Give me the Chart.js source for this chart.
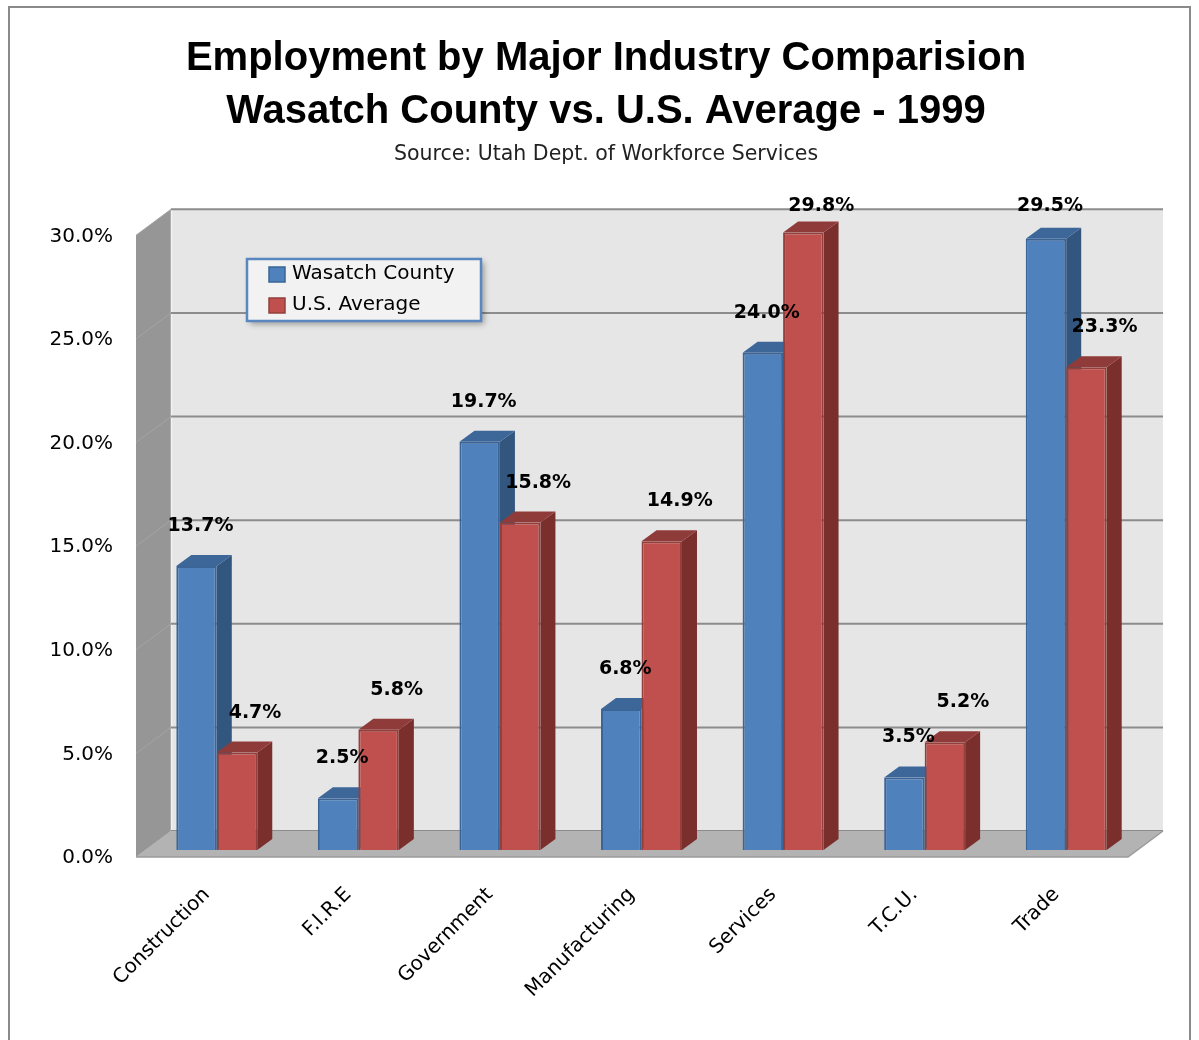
<!DOCTYPE html>
<html>
<head>
<meta charset="utf-8">
<title>Employment by Major Industry</title>
<script src="https://cdn.jsdelivr.net/npm/chart.js@4.4.1/dist/chart.umd.min.js"></script>
<style>
  html, body { margin: 0; padding: 0; background: #fff; }
  #chart { display: block; }
</style>
</head>
<body>
<canvas id="chart" width="1199" height="1040"></canvas>
<script>
// -----------------------------
// Data
// -----------------------------
const industries = ["Construction", "F.I.R.E", "Government", "Manufacturing", "Services", "T.C.U.", "Trade"]
const wasatchCounty = [13.7, 2.5, 19.7, 6.8, 24.0, 3.5, 29.5]
const usAverage = [4.7, 5.8, 15.8, 14.9, 29.8, 5.2, 23.3]
const seriesNames = ["Wasatch County", "U.S. Average"]
const yTicks = [0, 5, 10, 15, 20, 25, 30]

// colours: front, top, side, outline
const BLUE = { front: "#4f81bd", top: "#3d6699", side: "#33567f", edge: "#3a6596" }
const RED = { front: "#c0504d", top: "#8f3b39", side: "#7a2f2d", edge: "#93403d" }

// depth of each bar and of the whole floor/wall box
const BAR_DX = 15, BAR_DY = 11
const BOX_DX = 35, BOX_DY = 26
const BACK_DY = 19

const FONT = "'DejaVu Sans', Verdana, sans-serif"

// -----------------------------
// Walls, floor, 3D bars, labels
// -----------------------------
function drawFaces(ctx, bar, pal) {
  const p = bar.getProps(["x", "y", "base", "width"], true)
  const l = p.x - p.width / 2, r = p.x + p.width / 2
  ctx.fillStyle = pal.side
  ctx.beginPath()
  ctx.moveTo(r, p.y)
  ctx.lineTo(r + BAR_DX, p.y - BAR_DY)
  ctx.lineTo(r + BAR_DX, p.base - BAR_DY)
  ctx.lineTo(r, p.base)
  ctx.closePath()
  ctx.fill()
  ctx.fillStyle = pal.top
  ctx.beginPath()
  ctx.moveTo(l, p.y)
  ctx.lineTo(l + BAR_DX, p.y - BAR_DY)
  ctx.lineTo(r + BAR_DX, p.y - BAR_DY)
  ctx.lineTo(r, p.y)
  ctx.closePath()
  ctx.fill()
}

const box3d = {
  id: "box3d",
  beforeDraw(chart) {
    const ctx = chart.ctx
    ctx.save()
    ctx.strokeStyle = "#8a8a8a"
    ctx.lineWidth = 2
    ctx.strokeRect(9, 7, 1181, 1100)
    ctx.restore()
  },
  beforeDatasetsDraw(chart) {
    const ctx = chart.ctx
    const ca = chart.chartArea
    const y = chart.scales.y
    const y0 = y.getPixelForValue(0)
    const fl = ca.left - 10, fr = ca.right - 9, fy = y0 + 7
    const bl = fl + BOX_DX, br = fr + BOX_DX, by = fy - BOX_DY
    const wallTop = y.getPixelForValue(30) - BACK_DY

    ctx.save()
    // back wall
    ctx.fillStyle = "#e6e6e6"
    ctx.fillRect(bl, wallTop, br - bl, by - wallTop)

    // left wall
    ctx.fillStyle = "#969696"
    ctx.beginPath()
    ctx.moveTo(bl, by)
    ctx.lineTo(bl, wallTop)
    ctx.lineTo(fl, wallTop + BOX_DY)
    ctx.lineTo(fl, fy)
    ctx.closePath()
    ctx.fill()
    ctx.strokeStyle = "#f2f2f2"
    ctx.lineWidth = 1.5
    ctx.beginPath()
    ctx.moveTo(bl + 0.5, by)
    ctx.lineTo(bl + 0.5, wallTop)
    ctx.stroke()

    // grid lines on both walls
    yTicks.forEach(v => {
      const gy = y.getPixelForValue(v) - BACK_DY
      ctx.strokeStyle = "#8c8c8c"
      ctx.lineWidth = 2
      ctx.beginPath()
      ctx.moveTo(bl, gy)
      ctx.lineTo(br, gy)
      ctx.stroke()
      ctx.strokeStyle = "#a4a4a4"
      ctx.lineWidth = 1
      ctx.beginPath()
      ctx.moveTo(bl, gy)
      ctx.lineTo(fl, gy + BOX_DY)
      ctx.stroke()
    })

    // floor
    ctx.fillStyle = "#b3b3b3"
    ctx.beginPath()
    ctx.moveTo(fl, fy)
    ctx.lineTo(bl, by)
    ctx.lineTo(br, by)
    ctx.lineTo(fr, fy)
    ctx.closePath()
    ctx.fill()
    ctx.strokeStyle = "#9a9a9a"
    ctx.lineWidth = 1.5
    ctx.beginPath()
    ctx.moveTo(fl, fy)
    ctx.lineTo(fr, fy)
    ctx.lineTo(br, by)
    ctx.stroke()
    ctx.restore()
  },
  // bars are painted below, series by series, so the default pass is skipped
  beforeDatasetDraw() {
    return false
  },
  afterDatasetsDraw(chart) {
    const ctx = chart.ctx
    const pals = [BLUE, RED]

    // front face from the bar element, then its side and top
    chart.data.datasets.forEach((ds, i) => {
      chart.getDatasetMeta(i).data.forEach(bar => {
        bar.draw(ctx)
        ctx.save()
        drawFaces(ctx, bar, pals[i])
        ctx.restore()
      })
    })

    // value labels above the bars
    ctx.save()
    ctx.font = "bold 19px " + FONT
    ctx.fillStyle = "#000"
    ctx.textAlign = "center"
    ctx.textBaseline = "middle"
    chart.data.datasets.forEach((ds, i) => {
      const shift = i === 0 ? 4 : 18
      chart.getDatasetMeta(i).data.forEach((bar, j) => {
        const ly = Math.max(bar.y - 40, 206)
        ctx.fillText(ds.data[j].toFixed(1) + "%", bar.x + shift, ly)
      })
    })
    ctx.restore()
  },
  // legend box inside the plot
  afterDraw(chart) {
    const ctx = chart.ctx
    const lx = 247, ly = 259, lw = 234, lh = 62
    ctx.save()
    ctx.shadowColor = "rgba(0,0,0,0.35)"
    ctx.shadowBlur = 6
    ctx.shadowOffsetX = 3
    ctx.shadowOffsetY = 3
    ctx.fillStyle = "#f2f2f2"
    ctx.fillRect(lx, ly, lw, lh)
    ctx.restore()

    ctx.save()
    ctx.strokeStyle = "#5b87c0"
    ctx.lineWidth = 2.5
    ctx.strokeRect(lx, ly, lw, lh)
    ctx.font = "20px " + FONT
    ctx.textBaseline = "middle"
    ;[BLUE, RED].forEach((pal, i) => {
      const cy = ly + 15 + i * 31
      ctx.fillStyle = pal.front
      ctx.fillRect(lx + 22, cy - 7, 16, 15)
      ctx.strokeStyle = pal.edge
      ctx.lineWidth = 1.5
      ctx.strokeRect(lx + 22, cy - 7, 16, 15)
      ctx.fillStyle = "#000"
      ctx.fillText(seriesNames[i], lx + 45, cy)
    })
    ctx.restore()
  }
}

// -----------------------------
// Chart
// -----------------------------
new Chart(document.getElementById("chart"), {
  type: "bar",
  data: {
    labels: industries,
    datasets: [
      {
        label: seriesNames[0],
        data: wasatchCounty,
        backgroundColor: BLUE.front,
        borderColor: BLUE.edge,
        borderWidth: 2
      },
      {
        label: seriesNames[1],
        data: usAverage,
        backgroundColor: RED.front,
        borderColor: RED.edge,
        borderWidth: 2
      }
    ]
  },
  options: {
    responsive: false,
    animation: false,
    devicePixelRatio: 1,
    layout: { padding: { left: 13, right: 0, top: 0, bottom: 0 } },
    datasets: {
      bar: { categoryPercentage: 0.572, barPercentage: 1 }
    },
    plugins: {
      legend: { display: false },
      tooltip: { enabled: false },
      title: {
        display: true,
        text: ["Employment by Major Industry Comparision", "Wasatch County vs. U.S. Average - 1999"],
        color: "#000",
        font: { family: "'Liberation Sans', Arial, sans-serif", size: 40, weight: "bold", lineHeight: 1.325 },
        padding: { top: 32.5, bottom: 0 }
      },
      subtitle: {
        display: true,
        text: "Source: Utah Dept. of Workforce Services",
        color: "#222",
        font: { family: FONT, size: 20.5, lineHeight: 1.2 },
        padding: { top: 4, bottom: 61.2 }
      }
    },
    scales: {
      x: {
        grid: { display: false },
        border: { display: false },
        ticks: {
          color: "#000",
          font: { family: FONT, size: 20 },
          minRotation: 45,
          maxRotation: 45,
          autoSkip: false,
          padding: 25,
          labelOffset: -10
        },
        afterFit(s) { s.height = 190 }
      },
      y: {
        min: 0,
        max: 30,
        grid: { display: false },
        border: { display: false },
        ticks: {
          stepSize: 5,
          color: "#000",
          font: { family: FONT, size: 20 },
          padding: 25,
          labelOffset: 8,
          callback: v => v.toFixed(1) + "%"
        },
        afterFit(s) { s.width = 133 }
      },
      // empty strip on the right, keeps the plot off the frame
      yRight: {
        position: "right",
        display: true,
        grid: { display: false },
        border: { display: false },
        ticks: { display: false },
        afterFit(s) { s.width = 62 }
      }
    }
  },
  plugins: [box3d]
})
</script>
</body>
</html>
